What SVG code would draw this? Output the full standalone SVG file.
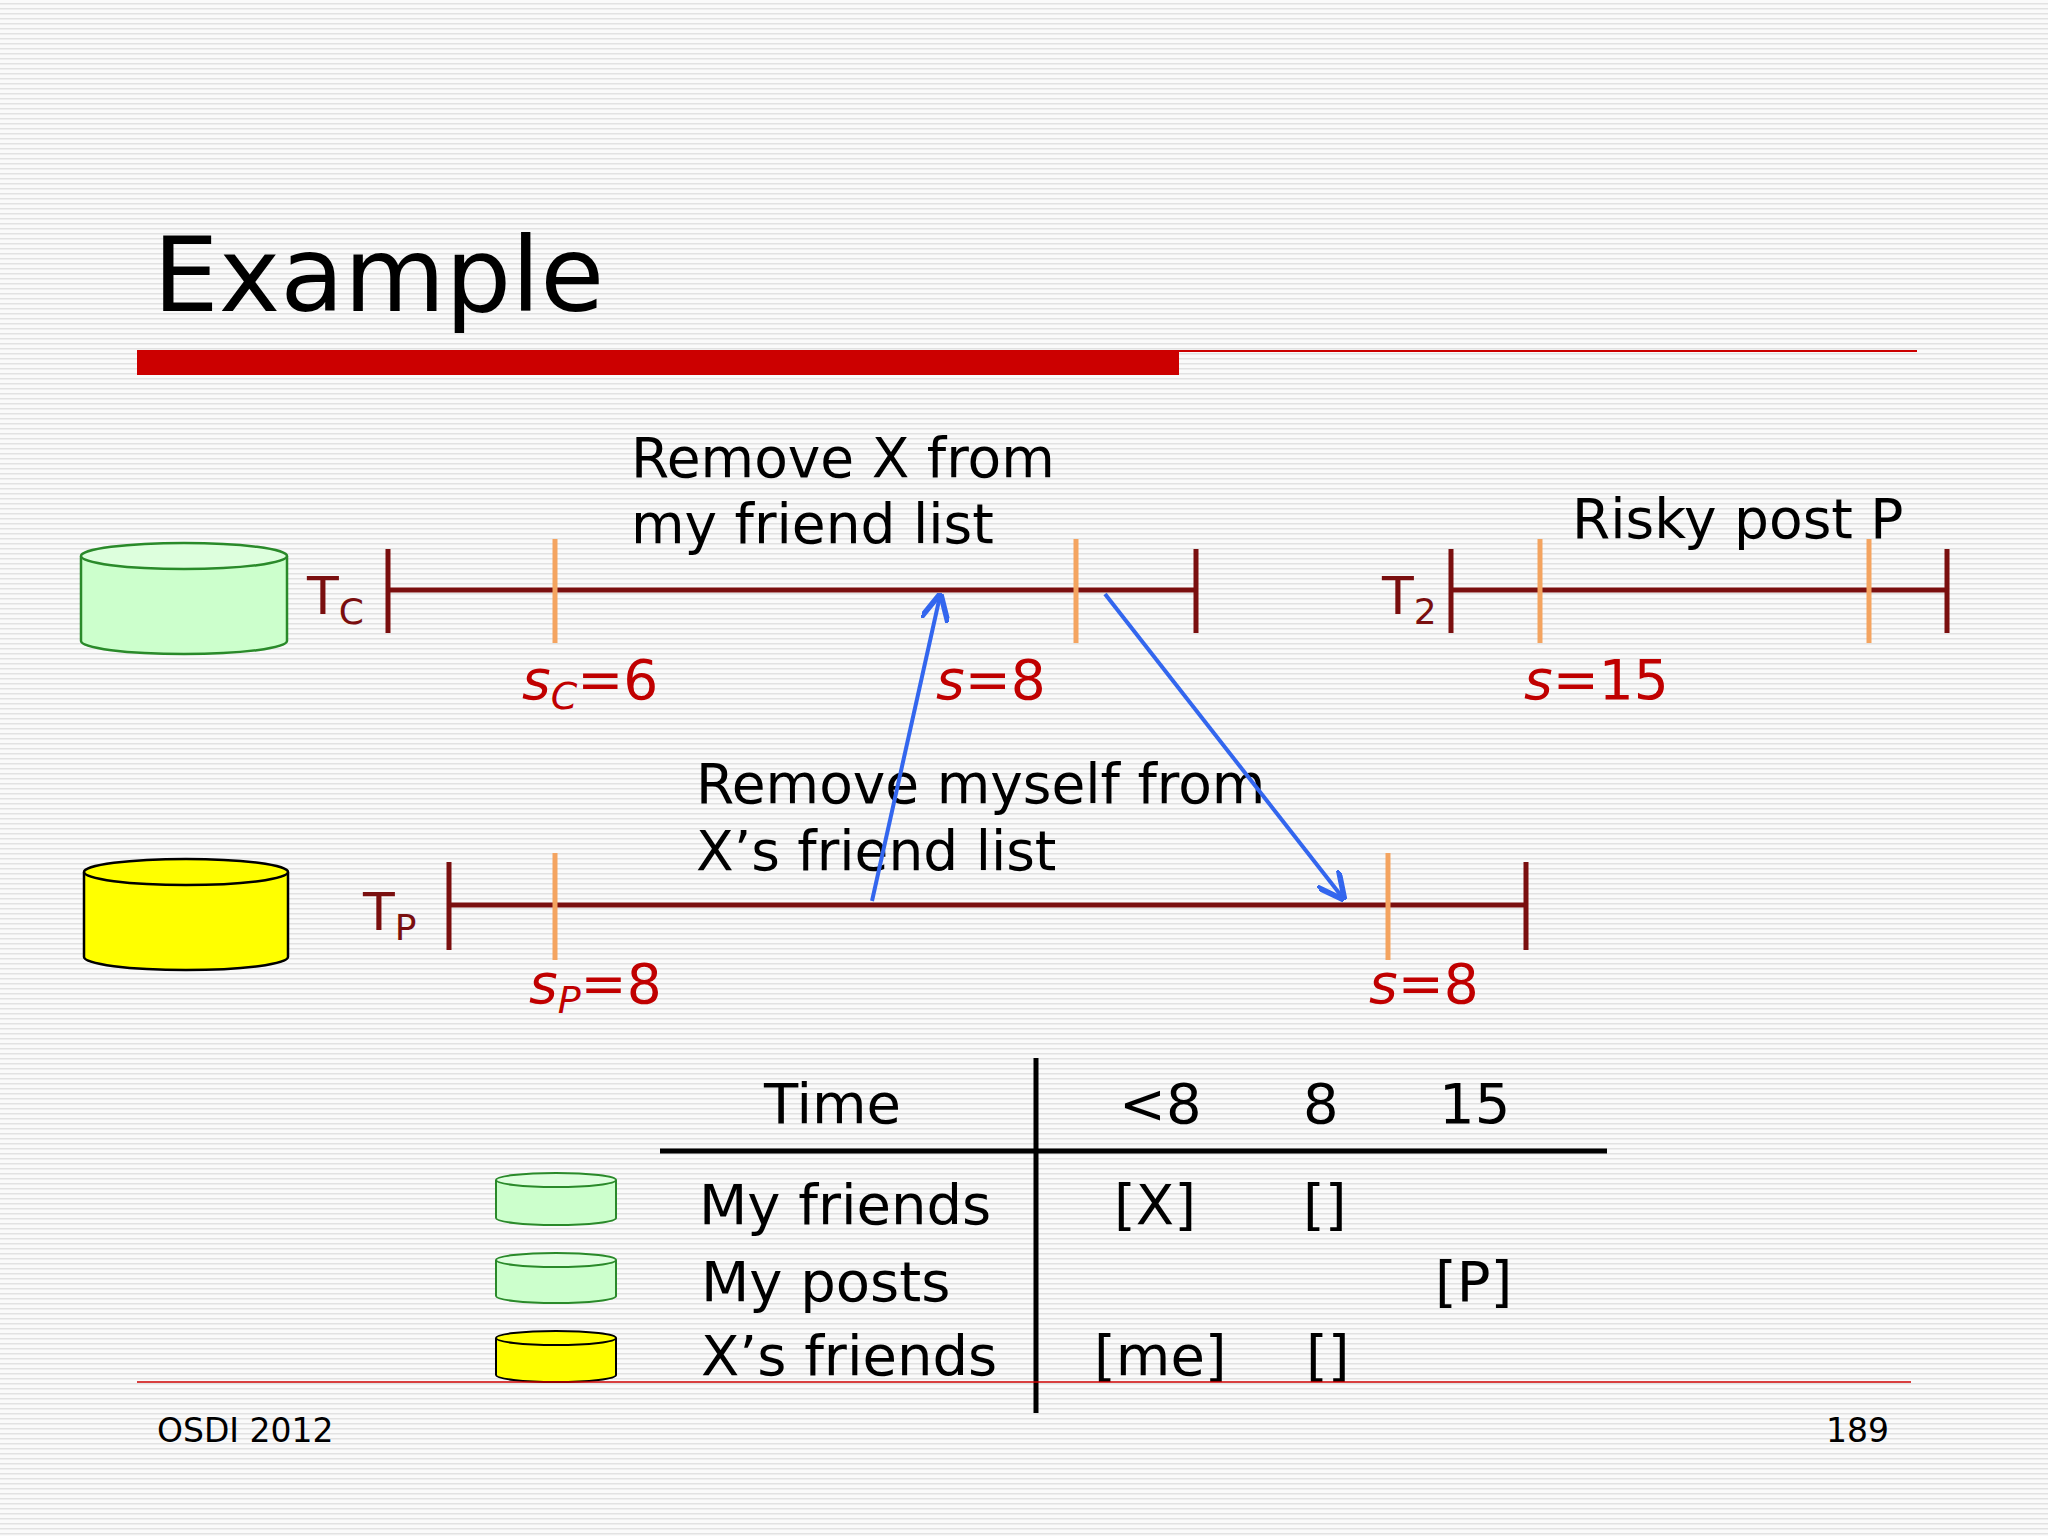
<svg xmlns="http://www.w3.org/2000/svg" width="2048" height="1536" viewBox="0 0 2048 1536">
<defs>
<pattern id="bg" width="8" height="5" patternUnits="userSpaceOnUse"><rect width="8" height="5" fill="#fafafa"/><rect y="3" width="8" height="1.5" fill="#e2e2e2"/></pattern>
<marker id="ah" viewBox="0 0 10 10" refX="9" refY="5" markerWidth="7" markerHeight="7" orient="auto"><path d="M0,0 L10,5 L0,10" fill="none" stroke="#3366ee" stroke-width="2"/></marker>
<style>
text{font-family:"DejaVu Sans",Verdana,sans-serif;fill:#000}
.lbl{font-size:55px}
.red{fill:#c00000;font-size:55px}
.tl{stroke:#7a0f0f;stroke-width:5;fill:none}
.or{stroke:#f4a460;stroke-width:5}
.tb{font-size:56px}
.arr{stroke:#3366ee;stroke-width:4;fill:none;marker-end:url(#ah)}
</style>
</defs>
<rect width="2048" height="1536" fill="url(#bg)"/>
<text x="153" y="311" font-size="104">Example</text>
<rect x="137" y="350" width="1042" height="25" fill="#cc0000"/>
<line x1="1179" y1="351" x2="1917" y2="351" stroke="#cc0000" stroke-width="2"/>

<g id="dbC"><path d="M81,556 v85 a103,13 0 0 0 206,0 v-85" fill="#ccffcc" stroke="#2a8a2a" stroke-width="2.5"/><ellipse cx="184" cy="556" rx="103" ry="13" fill="#ddffdd" stroke="#2a8a2a" stroke-width="2.5"/></g>
<g id="dbP"><path d="M84,872 v85 a102,13 0 0 0 204,0 v-85" fill="#ffff00" stroke="#000" stroke-width="2.5"/><ellipse cx="186" cy="872" rx="102" ry="13" fill="#ffff00" stroke="#000" stroke-width="2.5"/></g>

<g id="TC">
<line class="tl" x1="388" y1="590" x2="1196" y2="590"/>
<line class="tl" x1="388" y1="549" x2="388" y2="633"/><line class="tl" x1="1196" y1="549" x2="1196" y2="633"/>
<line class="or" x1="555" y1="539" x2="555" y2="643"/><line class="or" x1="1076" y1="539" x2="1076" y2="643"/>
<text x="307" y="614" fill="#7a0f0f" font-size="52" style="fill:#7a0f0f">T<tspan font-size="36" dy="10">C</tspan></text>
</g>
<g id="T2">
<line class="tl" x1="1451" y1="590" x2="1947" y2="590"/>
<line class="tl" x1="1451" y1="549" x2="1451" y2="633"/><line class="tl" x1="1947" y1="549" x2="1947" y2="633"/>
<line class="or" x1="1540" y1="539" x2="1540" y2="643"/><line class="or" x1="1869" y1="539" x2="1869" y2="643"/>
<text x="1382" y="614" font-size="52" style="fill:#7a0f0f">T<tspan font-size="36" dy="10">2</tspan></text>
</g>
<g id="TP">
<line class="tl" x1="449" y1="905" x2="1526" y2="905"/>
<line class="tl" x1="449" y1="862" x2="449" y2="950"/><line class="tl" x1="1526" y1="862" x2="1526" y2="950"/>
<line class="or" x1="555" y1="853" x2="555" y2="960"/><line class="or" x1="1388" y1="853" x2="1388" y2="960"/>
<text x="363" y="930" font-size="52" style="fill:#7a0f0f">T<tspan font-size="36" dy="10">P</tspan></text>
</g>

<text class="lbl" x="631" y="477">Remove X from</text>
<text class="lbl" x="631" y="543">my friend list</text>
<text class="lbl" x="1572" y="538">Risky post P</text>
<text class="lbl" x="696" y="803">Remove myself from</text>
<text class="lbl" x="696" y="870">X’s friend list</text>

<text class="red" x="522" y="699" style="fill:#c00000"><tspan font-style="italic">s</tspan><tspan font-style="italic" font-size="38" dy="10">C</tspan><tspan dy="-10">=6</tspan></text>
<text class="red" x="936" y="699" style="fill:#c00000"><tspan font-style="italic">s</tspan>=8</text>
<text class="red" x="1524" y="699" style="fill:#c00000"><tspan font-style="italic">s</tspan>=15</text>
<text class="red" x="529" y="1003" style="fill:#c00000"><tspan font-style="italic">s</tspan><tspan font-style="italic" font-size="38" dy="10">P</tspan><tspan dy="-10">=8</tspan></text>
<text class="red" x="1369" y="1003" style="fill:#c00000"><tspan font-style="italic">s</tspan>=8</text>

<g id="connectors">
<line class="arr" x1="872" y1="901" x2="940" y2="596"/>
<line class="arr" x1="1105" y1="594" x2="1343" y2="898"/>
</g>

<g id="table">
<line x1="1036" y1="1058" x2="1036" y2="1413" stroke="#000" stroke-width="5"/>
<line x1="660" y1="1151" x2="1607" y2="1151" stroke="#000" stroke-width="5"/>
<text class="tb" x="764" y="1123">Time</text>
<text class="tb" x="1119" y="1123">&lt;8</text>
<text class="tb" x="1303" y="1123">8</text>
<text class="tb" x="1439" y="1123">15</text>
<text class="tb" x="699" y="1224">My friends</text>
<text class="tb" x="1114" y="1224">[X]</text>
<text class="tb" x="1303" y="1224">[]</text>
<text class="tb" x="701" y="1301">My posts</text>
<text class="tb" x="1435" y="1301">[P]</text>
<text class="tb" x="701" y="1375">X’s friends</text>
<text class="tb" x="1094" y="1375">[me]</text>
<text class="tb" x="1306" y="1375">[]</text>
</g>
<g id="mini1"><path d="M496,1180 v38 a60,7 0 0 0 120,0 v-38" fill="#ccffcc" stroke="#2a8a2a" stroke-width="2"/><ellipse cx="556" cy="1180" rx="60" ry="7" fill="#ddffdd" stroke="#2a8a2a" stroke-width="2"/></g>
<g id="mini2"><path d="M496,1260 v36 a60,7 0 0 0 120,0 v-36" fill="#ccffcc" stroke="#2a8a2a" stroke-width="2"/><ellipse cx="556" cy="1260" rx="60" ry="7" fill="#ddffdd" stroke="#2a8a2a" stroke-width="2"/></g>
<g id="mini3"><path d="M496,1338 v37 a60,7 0 0 0 120,0 v-37" fill="#ffff00" stroke="#000" stroke-width="2"/><ellipse cx="556" cy="1338" rx="60" ry="7" fill="#ffff00" stroke="#000" stroke-width="2"/></g>

<line x1="137" y1="1382" x2="1911" y2="1382" stroke="#cc0000" stroke-width="1.5"/>
<text x="157" y="1442" font-size="33">OSDI 2012</text>
<text x="1889" y="1442" font-size="33" text-anchor="end">189</text>
</svg>
